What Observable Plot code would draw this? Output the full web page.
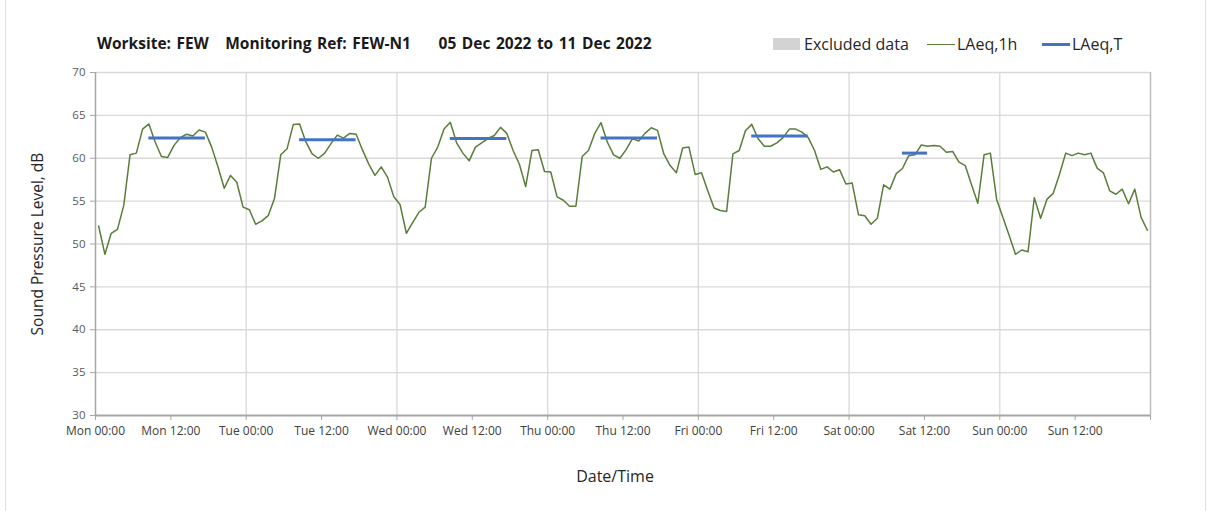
<!DOCTYPE html>
<html>
<head>
<meta charset="utf-8">
<script src="https://cdn.jsdelivr.net/npm/d3@7"></script>
<script src="https://cdn.jsdelivr.net/npm/@observablehq/plot@0.6"></script>
<style>
  html, body { margin: 0; padding: 0; background: #fff; }
  #wrap { position: relative; width: 1208px; height: 511px; overflow: hidden; font-family: "Open Sans", "Noto Sans", sans-serif; }
  #frame { position: absolute; left: 5px; top: -2px; width: 1201px; height: 520px; border: 1px solid #e3e3e3; box-sizing: border-box; pointer-events: none; }
  #title { position: absolute; left: 97px; top: 32px; font-size: 15.5px; font-weight: 700; color: #1a1a1a; white-space: pre; word-spacing: 1.5px; }
  #legend { position: absolute; left: 773px; top: 33px; display: flex; align-items: center; font-size: 16px; color: #262626; white-space: pre; }
  .sw-box { width: 27px; height: 12px; background: #d3d3d3; margin-right: 4px; }
  .sw-line { width: 28px; margin-right: 2px; }
  svg { display: block; }
</style>
</head>
<body>
<div id="wrap">
  <div id="chart"></div>
  <div id="title"></div>
  <div id="legend"></div>
  <div id="frame"></div>
</div>
<script>
// ---- Data ----
const titleText = "Worksite: FEW   Monitoring Ref: FEW-N1     05 Dec 2022 to 11 Dec 2022";
const days = ["Mon", "Tue", "Wed", "Thu", "Fri", "Sat", "Sun"];
const tickLabels = ["Mon 00:00", "Mon 12:00", "Tue 00:00", "Tue 12:00", "Wed 00:00", "Wed 12:00",
  "Thu 00:00", "Thu 12:00", "Fri 00:00", "Fri 12:00", "Sat 00:00", "Sat 12:00", "Sun 00:00", "Sun 12:00"];
const yTicks = [30, 35, 40, 45, 50, 55, 60, 65, 70];

// LAeq,1h — hourly values, Mon 00:00 to Sun 23:00
const laeq1h = [
  // Mon
  52.1, 48.8, 51.25, 51.7, 54.5, 60.4, 60.6, 63.4, 64.0, 61.9, 60.2, 60.1,
  61.5, 62.4, 62.8, 62.6, 63.3, 63.05, 61.3, 59.0, 56.5, 58.0, 57.2, 54.3,
  // Tue
  54.0, 52.3, 52.7, 53.3, 55.3, 60.4, 61.1, 63.95, 64.0, 61.9, 60.5, 60.0,
  60.6, 61.7, 62.7, 62.35, 62.9, 62.8, 61.0, 59.35, 58.0, 59.0, 57.8, 55.5,
  // Wed
  54.6, 51.25, 52.5, 53.7, 54.3, 60.0, 61.3, 63.4, 64.2, 61.8, 60.6, 59.7,
  61.3, 61.8, 62.3, 62.65, 63.6, 62.9, 60.9, 59.3, 56.7, 60.9, 61.0, 58.45,
  // Thu
  58.4, 55.5, 55.1, 54.4, 54.4, 60.2, 60.9, 62.9, 64.15, 61.9, 60.4, 60.0,
  61.0, 62.3, 62.0, 62.9, 63.55, 63.25, 60.5, 59.15, 58.3, 61.2, 61.3, 58.1,
  // Fri
  58.3, 56.2, 54.2, 53.9, 53.8, 60.5, 60.9, 63.2, 63.95, 62.3, 61.4, 61.4,
  61.8, 62.4, 63.4, 63.4, 63.05, 62.4, 60.9, 58.7, 59.0, 58.4, 58.65, 57.0,
  // Sat
  57.1, 53.4, 53.3, 52.3, 53.0, 56.9, 56.4, 58.2, 58.8, 60.3, 60.4, 61.55,
  61.4, 61.5, 61.4, 60.7, 60.8, 59.55, 59.15, 56.9, 54.75, 60.4, 60.6, 55.2,
  // Sun
  53.1, 51.0, 48.8, 49.3, 49.1, 55.4, 53.0, 55.2, 55.9, 58.1, 60.6, 60.3,
  60.6, 60.4, 60.6, 58.85, 58.3, 56.2, 55.8, 56.4, 54.7, 56.4, 53.1, 51.6
];

// LAeq,T — assessment periods (day index, start hour, end hour, level)
const periodDay = [0, 1, 2, 3, 4, 5];
const periodStartHour = [8, 8, 8, 8, 8, 8];
const periodEndHour = [18, 18, 18, 18, 18, 13];
const periodLAeq = [62.35, 62.15, 62.3, 62.35, 62.6, 60.6];

// ---- Build ----
const green = "#5a7d3a";
const blue = "#4472C4";
const axisGray = "#a6a6a6";
const gridGray = "#d9d9d9";

const hourly = laeq1h.map((v, i) => ({h: i + 0.5, v}));
const periods = periodLAeq.map((v, k) => ({
  x1: periodDay[k] * 24 + periodStartHour[k] + 0.5,
  x2: periodDay[k] * 24 + periodEndHour[k] - 0.5,
  y: v
}));
const xTicks = d3.range(0, 24 * days.length + 1, 12);
const dayStarts = d3.range(24, 24 * days.length + 1, 24);

const chart = Plot.plot({
  width: 1208,
  height: 511,
  marginLeft: 95,
  marginRight: 58,
  marginTop: 72,
  marginBottom: 96,
  style: {fontFamily: "'Open Sans', 'Noto Sans', sans-serif", background: "transparent"},
  x: {domain: [0, 24 * days.length]},
  y: {domain: [30, 70]},
  marks: [
    Plot.gridY(yTicks.slice(1), {stroke: gridGray, strokeOpacity: 1, strokeWidth: 1.3}),
    Plot.gridX(dayStarts.slice(0, -1), {stroke: gridGray, strokeOpacity: 1, strokeWidth: 1.3}),
    Plot.ruleX([24 * days.length], {stroke: "#bdbdbd", strokeWidth: 1.5}),
    Plot.axisY(yTicks, {tickSize: 5, tickPadding: 5, fontSize: 11.5, fill: "#595959", stroke: axisGray, label: null}),
    Plot.axisX(xTicks, {tickSize: 5, tickPadding: 6, fontSize: 12, fill: "#404040", stroke: axisGray, label: null,
      tickFormat: d => tickLabels[d / 12] ?? ""}),
    Plot.ruleX([0], {stroke: axisGray, strokeWidth: 1.5}),
    Plot.ruleY([30], {stroke: axisGray, strokeWidth: 2}),
    Plot.text(["Sound Pressure Level, dB"], {frameAnchor: "left", rotate: -90, dx: -57, textAnchor: "middle", lineAnchor: "middle", fontSize: 15.5, fill: "#262626"}),
    Plot.text(["Date/Time"], {frameAnchor: "bottom", dy: 61, dx: -8, textAnchor: "middle", lineAnchor: "middle", fontSize: 16, fill: "#262626"}),
    Plot.line(hourly, {x: "h", y: "v", stroke: green, strokeWidth: 1.5}),
    Plot.ruleY(periods, {x1: "x1", x2: "x2", y: "y", stroke: blue, strokeWidth: 3})
  ]
});
document.getElementById("chart").appendChild(chart);

document.getElementById("title").textContent = titleText;

const legendItems = [
  {label: "Excluded data", kind: "box", color: "#d3d3d3", textWidth: 107, gap: 16},
  {label: "LAeq,1h", kind: "line", color: green, width: 1.5, textWidth: 65, gap: 20},
  {label: "LAeq,T", kind: "line", color: blue, width: 3, textWidth: 60, gap: 0}
];
const legend = document.getElementById("legend");
for (const it of legendItems) {
  const item = document.createElement("div");
  item.style.display = "flex";
  item.style.alignItems = "center";
  item.style.marginRight = it.gap + "px";
  const sw = document.createElement("div");
  if (it.kind === "box") {
    sw.className = "sw-box";
    sw.style.background = it.color;
  } else {
    sw.className = "sw-line";
    sw.style.borderTop = it.width + "px solid " + it.color;
  }
  const tx = document.createElement("span");
  tx.textContent = it.label;
  tx.style.display = "inline-block";
  tx.style.minWidth = it.textWidth + "px";
  item.appendChild(sw);
  item.appendChild(tx);
  legend.appendChild(item);
}
</script>
</body>
</html>
